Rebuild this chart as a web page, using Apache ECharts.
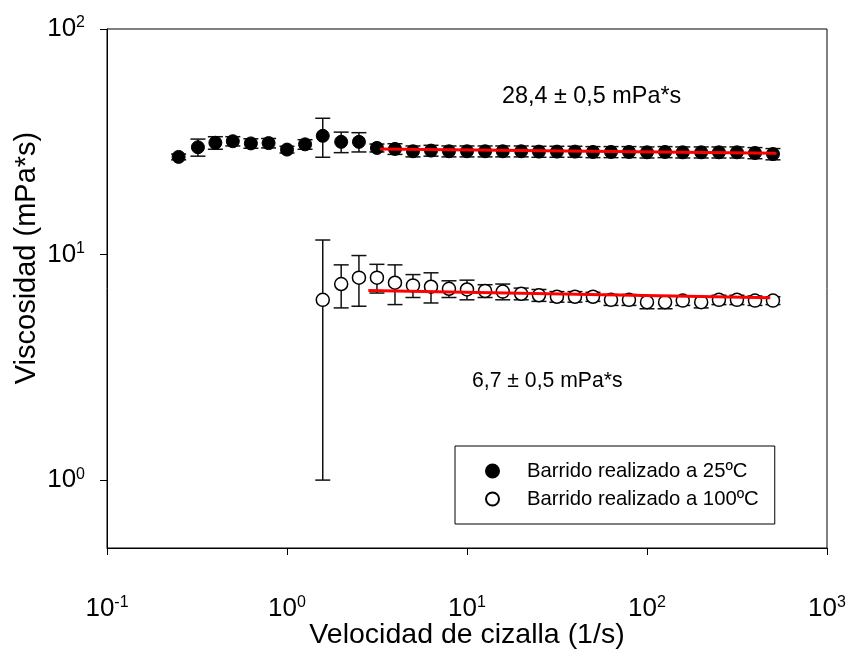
<!DOCTYPE html>
<html>
<head>
<meta charset="utf-8">
<script src="https://cdn.jsdelivr.net/npm/echarts@6/dist/echarts.min.js"></script>
<style>
  html, body { margin: 0; padding: 0; background: #fff; }
  #chart { width: 849px; height: 650px; }
</style>
</head>
<body>
<div id="chart"></div>
<script>
// Shear rate (1/s) for the 25 ºC sweep
const shear25 = [0.25, 0.32, 0.40, 0.50, 0.63, 0.79, 1.00, 1.26, 1.58, 2.00, 2.51, 3.16,
  3.98, 5.01, 6.31, 7.94, 10.0, 12.6, 15.8, 20.0, 25.1, 31.6, 39.8, 50.1, 63.1, 79.4,
  100, 126, 158, 200, 251, 316, 398, 501];
// Viscosity (mPa*s) at 25 ºC and its standard deviation
const visc25 = [27.1, 29.9, 31.3, 31.8, 31.1, 31.2, 29.2, 30.8, 33.6, 31.6, 31.6, 29.7,
  29.4, 28.7, 28.9, 28.7, 28.7, 28.7, 28.7, 28.7, 28.6, 28.6, 28.6, 28.5, 28.5, 28.5,
  28.4, 28.5, 28.4, 28.4, 28.4, 28.4, 28.2, 27.9];
const err25 = [0.8, 2.6, 2.0, 1.5, 1.5, 1.5, 1.0, 1.5, 6.6, 3.3, 3.1, 1.2,
  1.6, 1.6, 1.6, 1.6, 1.6, 1.6, 1.6, 1.6, 1.6, 1.6, 1.6, 1.6, 1.6, 1.6,
  1.6, 1.6, 1.6, 1.6, 1.6, 1.6, 1.6, 1.6];

// Shear rate (1/s) for the 100 ºC sweep
const shear100 = [1.58, 2.00, 2.51, 3.16, 3.98, 5.01, 6.31, 7.94, 10.0, 12.6, 15.8, 20.0,
  25.1, 31.6, 39.8, 50.1, 63.1, 79.4, 100, 126, 158, 200, 251, 316, 398, 501];
// Viscosity (mPa*s) at 100 ºC and its standard deviation
const visc100 = [6.3, 7.4, 7.9, 7.9, 7.5, 7.3, 7.2, 7.05, 7.0, 6.9, 6.85, 6.7,
  6.6, 6.5, 6.5, 6.5, 6.3, 6.3, 6.15, 6.15, 6.25, 6.15, 6.3, 6.3, 6.25, 6.25];
const err100 = [5.3, 1.6, 2.0, 1.15, 1.5, 0.85, 1.1, 0.6, 0.7, 0.45, 0.55, 0.4,
  0.4, 0.35, 0.35, 0.3, 0.35, 0.35, 0.4, 0.4, 0.3, 0.35, 0.3, 0.3, 0.3, 0.25];

// Fitted plateau lines (start / end shear rate and viscosity)
const fit25X = [3.29, 524];
const fit25Y = [29.4, 28.1];
const fit100X = [2.83, 484];
const fit100Y = [6.93, 6.43];

// Axis ticks (decades)
const xTicks = [0.1, 1, 10, 100, 1000];
const yTicks = [1, 10, 100];

const name25 = 'Barrido realizado a 25ºC';
const name100 = 'Barrido realizado a 100ºC';
const note25 = '28,4 ± 0,5 mPa*s';
const note100 = '6,7 ± 0,5 mPa*s';

const FONT = 'Liberation Sans, Arial, sans-serif';

function pairs(xs, ys) { return xs.map((x, i) => [x, ys[i]]); }
function bars(xs, ys, es) { return xs.map((x, i) => [x, ys[i] - es[i], ys[i] + es[i]]); }

function powerLabel(v) {
  const e = Math.round(Math.log10(v));
  return '{b|10}{s|' + e + '}';
}
const labelRich = {
  b: { fontSize: 26, fontFamily: FONT, color: '#000' },
  s: { fontSize: 16, fontFamily: FONT, color: '#000', padding: [0, 0, 12, 0] }
};

function renderErrorBar(params, api) {
  const x = api.value(0);
  const pLo = api.coord([x, api.value(1)]);
  const pHi = api.coord([x, api.value(2)]);
  const w = 7.5;
  const style = { stroke: '#111', lineWidth: 1.5 };
  return {
    type: 'group',
    children: [
      { type: 'line', shape: { x1: pLo[0], y1: pLo[1], x2: pHi[0], y2: pHi[1] }, style },
      { type: 'line', shape: { x1: pHi[0] - w, y1: pHi[1], x2: pHi[0] + w, y2: pHi[1] }, style },
      { type: 'line', shape: { x1: pLo[0] - w, y1: pLo[1], x2: pLo[0] + w, y2: pLo[1] }, style }
    ]
  };
}

const chart = echarts.init(document.getElementById('chart'), null, { renderer: 'canvas' });

chart.setOption({
  animation: false,
  backgroundColor: '#fff',
  textStyle: { fontFamily: FONT },
  grid: {
    left: 107, right: 22, top: 29, bottom: 102,
    outerBoundsMode: 'none', containLabel: false,
    show: true, borderColor: '#000', borderWidth: 1, backgroundColor: 'transparent'
  },
  xAxis: {
    type: 'log', logBase: 10, min: 0.1, max: 1000,
    name: 'Velocidad de cizalla (1/s)', nameLocation: 'middle', nameGap: 73,
    nameMoveOverlap: false,
    nameTextStyle: { fontSize: 28.5, fontFamily: FONT, color: '#000' },
    axisLine: { lineStyle: { color: '#000', width: 1 } },
    axisTick: { inside: false, length: 7, lineStyle: { color: '#000' }, customValues: xTicks },
    axisLabel: { margin: 47, formatter: powerLabel, rich: labelRich, customValues: xTicks },
    splitLine: { show: false },
    minorTick: { show: false }
  },
  yAxis: {
    type: 'log', logBase: 10, min: 0.5, max: 100,
    name: 'Viscosidad (mPa*s)', nameLocation: 'middle', nameGap: 66,
    nameMoveOverlap: false,
    nameTextStyle: { fontSize: 29, fontFamily: FONT, color: '#000', padding: [0, 0, 0, 61] },
    axisLine: { lineStyle: { color: '#000', width: 1 } },
    axisTick: { inside: false, length: 7, lineStyle: { color: '#000' }, customValues: yTicks },
    axisLabel: { margin: 22, formatter: powerLabel, rich: labelRich, customValues: yTicks },
    splitLine: { show: false },
    minorTick: { show: false }
  },
  legend: {
    orient: 'vertical', left: 455, top: 446,
    padding: [15, 16, 15, 30], itemGap: 8,
    itemWidth: 13, itemHeight: 13,
    borderColor: '#000', borderWidth: 1, backgroundColor: '#fff',
    selectedMode: false,
    textStyle: { fontSize: 20.3, fontFamily: FONT, color: '#000', padding: [0, 0, 0, 23] },
    data: [name25, name100]
  },
  graphic: [
    { type: 'text', left: 502, top: 85, style: { text: note25, fontSize: 23.4, fontFamily: FONT, fill: '#000' } },
    { type: 'text', left: 472, top: 371, style: { text: note100, fontSize: 21.2, fontFamily: FONT, fill: '#000' } }
  ],
  series: [
    {
      type: 'custom', name: 'err25', renderItem: renderErrorBar,
      encode: { x: 0, y: [1, 2] }, data: bars(shear25, visc25, err25), z: 2, silent: true
    },
    {
      type: 'custom', name: 'err100', renderItem: renderErrorBar,
      encode: { x: 0, y: [1, 2] }, data: bars(shear100, visc100, err100), z: 2, silent: true
    },
    {
      type: 'scatter', name: name25, data: pairs(shear25, visc25),
      symbol: 'circle', symbolSize: 13, z: 3,
      itemStyle: { color: '#000', borderColor: '#000', borderWidth: 1, opacity: 1 }
    },
    {
      type: 'scatter', name: name100, data: pairs(shear100, visc100),
      symbol: 'circle', symbolSize: 13, z: 3,
      itemStyle: { color: '#fff', borderColor: '#000', borderWidth: 1.5, opacity: 1 }
    },
    {
      type: 'line', name: 'fit25', data: pairs(fit25X, fit25Y), showSymbol: false, symbol: 'none',
      lineStyle: { color: '#ff0000', width: 3 }, z: 5, silent: true
    },
    {
      type: 'line', name: 'fit100', data: pairs(fit100X, fit100Y), showSymbol: false, symbol: 'none',
      lineStyle: { color: '#ff0000', width: 3 }, z: 5, silent: true
    }
  ]
});
</script>
</body>
</html>
